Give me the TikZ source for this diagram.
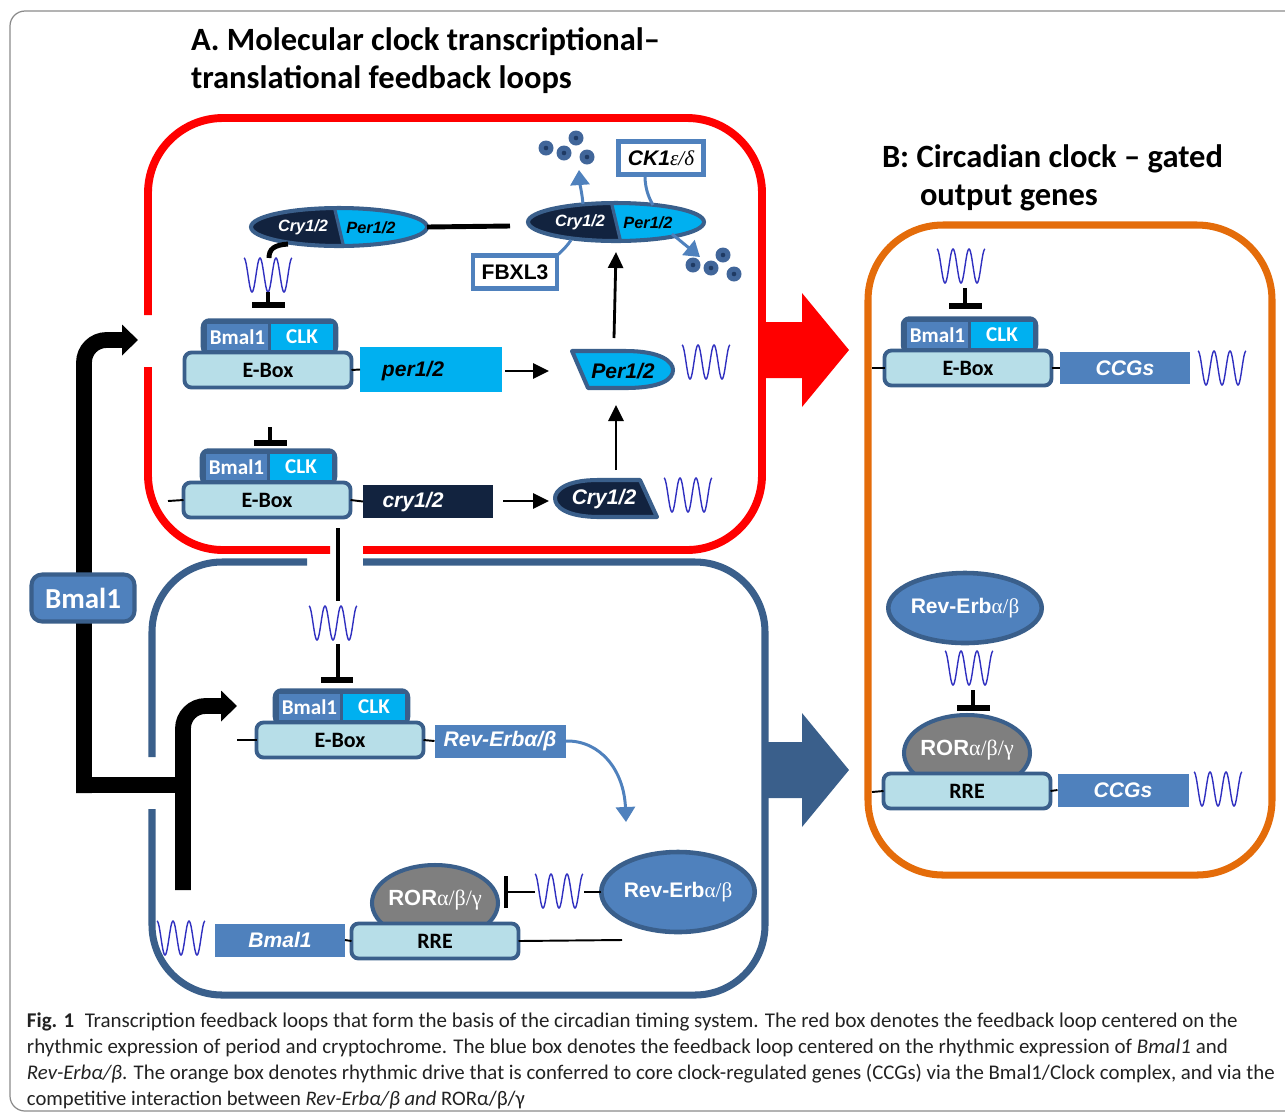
\documentclass[tikz,border=0pt]{standalone}
\usepackage{fontspec}
\setmainfont{Carlito}
\newfontfamily\arialf{Liberation Sans}
\newfontfamily\serifg{Liberation Serif}
\usetikzlibrary{arrows.meta,shapes.geometric}
\definecolor{redc}{HTML}{FF0000}
\definecolor{bordc}{HTML}{3A5F8B}
\definecolor{orangec}{HTML}{E46C0A}
\definecolor{medblue}{HTML}{4F81BD}
\definecolor{cyanc}{HTML}{00B0F0}
\definecolor{navyc}{HTML}{12233F}
\definecolor{eboxc}{HTML}{B7DEE8}
\definecolor{rorc}{HTML}{7F7F7F}
\definecolor{wavec}{HTML}{3030C0}
\definecolor{dotc}{HTML}{41669A}
\definecolor{dotcc}{HTML}{1F3A63}
\definecolor{framec}{HTML}{8A8A8A}
\definecolor{capc}{HTML}{222222}
\newcommand\pxu{0.02cm}
\newcommand\fsz[1]{\fontsize{#1}{#1}\selectfont}
\newcommand\ai{\arialf\bfseries\itshape}
\newcommand\ab{\arialf\bfseries}
\newcommand\gk{\serifg\mdseries\upshape}
\newcommand\gki{\serifg\mdseries\itshape}

\tikzset{
  every node/.style={inner sep=0pt, outer sep=0pt},
  ebx/.style={draw=bordc, fill=eboxc, line width=2.2pt, rounded corners=4pt,
    minimum width=167*\pxu, minimum height=35*\pxu, font=\fsz{12.5}\bfseries},
  cxouter/.style={draw=bordc, fill=bordc, line width=2pt, rounded corners=4pt,
    minimum width=134*\pxu, minimum height=34*\pxu},
  bmst/.style={fill=medblue, minimum width=61*\pxu, minimum height=26*\pxu,
    text=white, font=\fsz{12}\bfseries},
  clkst/.style={fill=cyanc, minimum width=62*\pxu, minimum height=26*\pxu,
    text=white, font=\fsz{12}\bfseries},
  rorst/.style={ellipse, fill=rorc, draw=bordc, line width=2.3pt,
    minimum width=126*\pxu, minimum height=76*\pxu},
  gene/.style={minimum width=130*\pxu, minimum height=33*\pxu, text=white,
    font=\ai\fsz{12}},
  revst/.style={ellipse, fill=medblue, draw=bordc, line width=2.6pt,
    minimum width=150*\pxu, minimum height=76*\pxu, text=white, font=\ab\fsz{12}},
  labbox/.style={draw=medblue, fill=white, line width=2.3pt,
    minimum width=84*\pxu, minimum height=33*\pxu},
  titlest/.style={anchor=base west, font=\fsz{18.5}\bfseries},
  thinl/.style={line width=1.1pt},
  inhl/.style={line width=2.8pt},
  inhbar/.style={line width=3.4pt},
  arr/.style={line width=1.6pt, -{Triangle[length=0.32cm, width=0.3cm]}},
  barr/.style={medblue, line width=1.7pt, -{Triangle[length=0.3cm, width=0.38cm]}},
  bline/.style={medblue, line width=1.7pt},
  bigarr/.style={line width=9pt, -{Triangle[length=0.32cm, width=0.6cm]}},
  sinewave/.pic={\draw[wavec, line width=0.8pt] plot[domain=0:1080, samples=91, smooth] ({\x/1080*48-24},{-17*cos(\x)});},
  bclk/.pic={
    \node[cxouter] (-outer) at (1.5,-33) {};
    \node[bmst] (-bmal) at (-30.5,-33) {Bmal1};
    \node[clkst] (-clk) at (34,-33) {CLK};
    \node[ebx] (-ebox) at (0,0) {E-Box};
  },
  rorrre/.pic={
    \node[rorst] (-ror) at (0,-38) {};
    \node[font=\ab\fsz{12.5}, text=white] (-rortxt) at (0,-41) {ROR{\gk α/β/γ}};
    \node[ebx] (-rre) at (0,0) {RRE};
  }
}

\newcommand\cpx[3]{%
  \begin{scope}
    \clip (#2,#3) ellipse [x radius=88, y radius=19];
    \fill[navyc] (#2-100,#3-30) -- (#2-7.1,#3-30) -- (#2+7.1,#3+30) -- (#2-100,#3+30) -- cycle;
    \fill[cyanc] (#2-7.1,#3-30) -- (#2+100,#3-30) -- (#2+100,#3+30) -- (#2+7.1,#3+30) -- cycle;
    \draw[bordc, line width=1.8pt] (#2-7.1,#3-30) -- (#2+7.1,#3+30);
  \end{scope}
  \node[ellipse, draw=bordc, line width=2.3pt, minimum width=176*\pxu, minimum height=38*\pxu] (#1) at (#2,#3) {};
  \node[text=white, font=\ai\fsz{9.3}] (#1-c) at (#2-36,#3) {Cry1/2};
  \node[text=black, font=\ai\fsz{9.3}] (#1-p) at (#2+32,#3+1) {Per1/2};
}
\newcommand\bdot[2]{\fill[dotc] (#1,#2) circle [radius=7.5]; \fill[dotcc] (#1,#2) circle [radius=2.3];}

\begin{document}
\begin{tikzpicture}[x=0.02cm, y=-0.02cm]
\useasboundingbox (0,0) rectangle (1285,1117);
\draw[framec, line width=0.7pt, rounded corners=0.3cm] (10,11) rectangle (1320,1111);

% titles
\node[titlest] (tA1) at (191,50) {A. Molecular clock transcriptional–};
\node[titlest] (tA2) at (191,88) {translational feedback loops};
\node[titlest] (tB1) at (882,167) {B: Circadian clock – gated};
\node[titlest] (tB2) at (920,205) {output genes};

% boxes
\draw[redc, line width=4.5pt, rounded corners=1.5cm] (148,367) -- (148,550) -- (330,550);
\draw[redc, line width=4.5pt, rounded corners=1.5cm] (363,550) -- (762,550) -- (762,118) -- (148,118) -- (148,315);
\draw[bordc, line width=4pt, rounded corners=1.4cm] (152,809) -- (152,995) -- (765,995) -- (765,562) -- (363,562);
\draw[bordc, line width=4pt, rounded corners=1.4cm] (307,562) -- (152,562) -- (152,757);
\draw[orangec, line width=4pt, rounded corners=1.5cm] (868,225) rectangle (1272,875);

% block arrows
\fill[redc] (758,322) -- (802,322) -- (802,293) -- (849,350) -- (802,407) -- (802,378) -- (758,378) -- cycle;
\fill[bordc] (763,742) -- (802,742) -- (802,713) -- (849,770) -- (802,827) -- (802,798) -- (763,798) -- cycle;

% Bmal1 drive lines
\coordinate (redin) at (138,340);
\coordinate (bluein) at (237,706);
\draw[line width=9pt] (76,785) -- (191,785);
\draw[bigarr, rounded corners=0.45cm] (84,793) -- (84,340) -- (redin);
\draw[bigarr, rounded corners=0.45cm] (183,890) -- (183,706) -- (bluein);
\node[draw=bordc, fill=medblue, line width=2.3pt, rounded corners=6pt, minimum width=103*\pxu, minimum height=47*\pxu, text=white, font=\fsz{16.5}\bfseries] (bmlab) at (83,598) {Bmal1};

% ===== A: red loop =====
\cpx{cpL}{339}{227}
\cpx{cpR}{616}{222}
\coordinate (linkend) at (510,226);
\draw[inhl] (cpL.east) -- (linkend);
\draw[inhl] (288,244) .. controls (274,245) and (269,249) .. (269,258);
\pic at (268,275) {sinewave};
\coordinate (t1a) at (268,292); \coordinate (t1b) at (268,305);
\draw[inhl] (t1a) -- (t1b);
\draw[inhbar] (252,305) -- (285,305);

\pic (bcA1) at (268,370) {bclk};
\node[fill=cyanc, minimum width=142*\pxu, minimum height=45*\pxu] (perg) at (431,369.5) {};
\node[font=\ai\fsz{12}] (pergt) at (413,371) {per1/2};
\draw[thinl] (bcA1-ebox.east) -- (perg.west);

\coordinate (t2a) at (270,427); \coordinate (t2b) at (270,443);
\draw[inhl] (t2a) -- (t2b);
\draw[inhbar] (254,443) -- (287,443);
\pic (bcA2) at (267,500) {bclk};
\coordinate (a2l) at (168,501);
\node[fill=navyc, minimum width=130*\pxu, minimum height=33*\pxu] (cryg) at (428,501.5) {};
\node[font=\ai\fsz{12}, text=white] (crygt) at (413,502) {cry1/2};
\draw[thinl] (a2l) -- (bcA2-ebox.west);
\draw[thinl] (bcA2-ebox.east) -- (cryg.west);

% proteins
\filldraw[fill=cyanc, draw=bordc, line width=2.3pt, line join=round] (572,351) -- (625,351) .. controls (662,351) and (673,362) .. (673,370) .. controls (673,379) and (662,388) .. (625,388) -- (588,388) -- cycle;
\node[font=\ai\fsz{12}] (perp) at (623,371) {Per1/2};
\pic at (706,362) {sinewave};
\filldraw[fill=navyc, draw=bordc, line width=2.3pt, line join=round] (640,480) -- (598,480) .. controls (565,480) and (555,491) .. (555,498) .. controls (555,507) and (566,517) .. (600,517) -- (657,517) -- cycle;
\node[font=\ai\fsz{12}, text=white] (cryp) at (604,499) {Cry1/2};
\pic at (688,495) {sinewave};

\coordinate (pa1) at (505,371); \coordinate (pa2) at (549,371);
\coordinate (ca1) at (503,501); \coordinate (ca2) at (549,501);
\coordinate (cu1) at (616,470); \coordinate (cu2) at (616,405);
\coordinate (pu1) at (614,338); \coordinate (pu2) at (616,252);
\draw[arr] (pa1) -- (pa2);
\draw[arr] (ca1) -- (ca2);
\draw[arr] (cu1) -- (cu2);
\draw[arr] (pu1) -- (pu2);

% degradation
\node[labbox, font=\ab\fsz{12}] (fbx) at (515,272) {FBXL3};
\node[labbox, minimum width=85*\pxu, font=\ai\fsz{12}] (ck) at (661,158) {CK1{\gki ε/δ}};
\coordinate (fbxend) at (571,240);
\coordinate (ckst) at (645,176); \coordinate (ckend) at (653,205);
\draw[bline] (fbx.north east) .. controls (563,250) and (568,245) .. (fbxend);
\draw[bline] (ckst) .. controls (645,190) and (650,200) .. (ckend);
\coordinate (dg1a) at (583,204); \coordinate (dg1b) at (579,170);
\coordinate (dg2a) at (672,234); \coordinate (dg2b) at (700,257);
\draw[barr] (dg1a) .. controls (582,193) and (580,185) .. (dg1b);
\draw[barr] (dg2a) -- (dg2b);
\bdot{546}{148} \bdot{564}{153} \bdot{576}{138} \bdot{587}{157}
\bdot{693}{265} \bdot{711}{268} \bdot{723}{255} \bdot{734}{274}

% ===== A: blue loop =====
\coordinate (v1) at (338,528); \coordinate (v2) at (338,601);
\coordinate (v3) at (338,644); \coordinate (v4) at (338,680);
\draw[inhl] (v1) -- (v2);
\pic at (333,623) {sinewave};
\draw[inhl] (v3) -- (v4);
\draw[inhbar] (321,680) -- (353,680);
\pic (bcB) at (340,740) {bclk};
\coordinate (bl) at (237,740);
\node[gene, fill=medblue, minimum width=131*\pxu] (revg) at (500,741) {Rev-Erbα/β};
\draw[thinl] (bl) -- (bcB-ebox.west);
\draw[thinl] (bcB-ebox.east) -- (revg.west);
\coordinate (revtip) at (626,822);
\draw[barr] (revg.east) .. controls (600,740) and (624,770) .. (revtip);

\node[revst, minimum height=80*\pxu] (revb) at (678,892) {Rev-Erb{\gk α/β}};
\coordinate (w5r) at (584,892); \coordinate (w5l) at (535,892); \coordinate (bar5) at (507,892);
\draw[line width=1.3pt] (revb.west) -- (w5r);
\pic at (559,891) {sinewave};
\draw[line width=1.3pt] (w5l) -- (bar5);
\draw[line width=1.8pt] (506,876) -- (506,908);

\pic (rrB) at (435,941) {rorrre};
\node[gene, fill=medblue] (bmalg) at (280,940) {Bmal1};
\pic at (181,938) {sinewave};
\coordinate (rreend) at (622,940);
\draw[thinl] (bmalg.east) -- (rrB-rre.west);
\draw[thinl] (rrB-rre.east) -- (rreend);

% ===== B: orange box =====
\pic at (961,266) {sinewave};
\coordinate (o1a) at (965,288); \coordinate (o1b) at (965,306);
\draw[inhl] (o1a) -- (o1b);
\draw[inhbar] (949,306) -- (982,306);
\pic (bcO) at (968,368) {bclk};
\coordinate (ol1) at (872,368);
\node[gene, fill=medblue, minimum height=32*\pxu] (ccg1) at (1125,368) {CCGs};
\draw[thinl] (ol1) -- (bcO-ebox.west);
\draw[thinl] (bcO-ebox.east) -- (ccg1.west);
\pic at (1222,368) {sinewave};

\node[revst, minimum height=70*\pxu] (revo) at (965,608) {Rev-Erb{\gk α/β}};
\pic at (969,668) {sinewave};
\coordinate (o2a) at (973,690); \coordinate (o2b) at (973,708);
\draw[inhl] (o2a) -- (o2b);
\draw[inhbar] (957,708) -- (990,708);
\pic (rrO) at (967,791) {rorrre};
\coordinate (ol2) at (872,792);
\node[gene, fill=medblue, minimum width=131*\pxu] (ccg2) at (1123,790) {CCGs};
\draw[thinl] (ol2) -- (rrO-rre.west);
\draw[thinl] (rrO-rre.east) -- (ccg2.west);
\pic at (1218,789) {sinewave};

% caption
\node[anchor=base west, text=capc] (cap1) at (27,1027) {\resizebox{24.22cm}{!}{\textbf{Fig. 1}\hspace{0.5em}Transcription feedback loops that form the basis of the circadian timing system. The red box denotes the feedback loop centered on the}};
\node[anchor=base west, text=capc] (cap2) at (27,1053) {\resizebox{24.02cm}{!}{rhythmic expression of period and cryptochrome. The blue box denotes the feedback loop centered on the rhythmic expression of \textit{Bmal1} and}};
\node[anchor=base west, text=capc] (cap3) at (27,1079) {\resizebox{24.96cm}{!}{\textit{Rev-Erbα/β}. The orange box denotes rhythmic drive that is conferred to core clock-regulated genes (CCGs) via the Bmal1/Clock complex, and via the}};
\node[anchor=base west, text=capc] (cap4) at (27,1105) {\resizebox{9.96cm}{!}{competitive interaction between \textit{Rev-Erbα/β and} RORα/β/γ}};
\end{tikzpicture}
\end{document}
